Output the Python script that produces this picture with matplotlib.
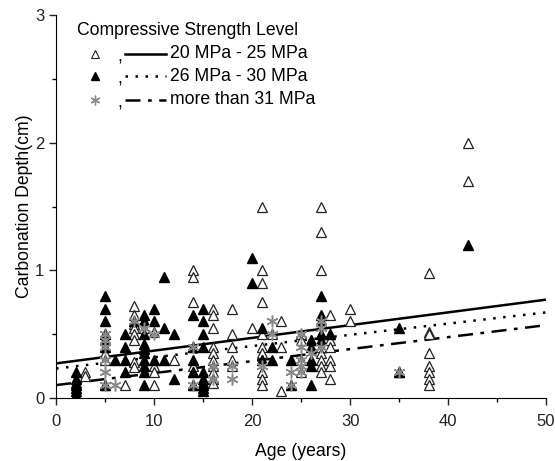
import matplotlib
matplotlib.use("Agg")
import matplotlib.pyplot as plt
import numpy as np

plt.rcParams['font.family'] = ['Liberation Sans', 'DejaVu Sans']

# ------------------------------------------------------------
# data (age in years, depth in cm)
# 20 MPa - 25 MPa  (open triangles)
low_age = [3, 3,
           5, 5, 5, 5, 5,
           7,
           8, 8, 8, 8, 8, 8, 8, 8,
           9, 9,
           10, 10, 10, 10,
           12,
           14, 14, 14, 14, 14, 14, 14,
           16, 16, 16, 16, 16, 16, 16, 16, 16, 16,
           18, 18, 18, 18, 18,
           20,
           21, 21, 21, 21, 21, 21, 21, 21, 21, 21, 21,
           22,
           23, 23, 23,
           25, 25, 25, 25,
           26,
           27, 27, 27, 27, 27, 27, 27, 27, 27, 27,
           28, 28, 28, 28, 28, 28, 28,
           30, 30,
           35,
           38, 38, 38, 38, 38, 38, 38, 38,
           42, 42]
low_depth = [0.2, 0.17,
             0.5, 0.45, 0.35, 0.3, 0.1,
             0.1,
             0.72, 0.65, 0.58, 0.55, 0.5, 0.45, 0.28, 0.24,
             0.6, 0.55,
             0.52, 0.25, 0.2, 0.1,
             0.3,
             1.0, 0.95, 0.75, 0.4, 0.25, 0.2, 0.1,
             0.7, 0.65, 0.55, 0.4, 0.35, 0.3, 0.25, 0.2, 0.15, 0.12,
             0.7, 0.5, 0.4, 0.3, 0.25,
             0.55,
             1.5, 1.0, 0.9, 0.75, 0.5, 0.4, 0.35, 0.3, 0.2, 0.15, 0.1,
             0.5,
             0.6, 0.4, 0.05,
             0.5, 0.45, 0.3, 0.2,
             0.45,
             1.5, 1.3, 1.0, 0.6, 0.5, 0.4, 0.35, 0.3, 0.25, 0.2,
             0.65, 0.5, 0.45, 0.4, 0.3, 0.25, 0.15,
             0.7, 0.6,
             0.2,
             0.98, 0.52, 0.5, 0.35, 0.25, 0.2, 0.15, 0.1,
             2.0, 1.7]

# 26 MPa - 30 MPa  (filled triangles)
mid_age = [2, 2, 2, 2, 2, 2, 2,
           5, 5, 5, 5, 5, 5, 5,
           6,
           7, 7, 7, 7,
           8,
           9, 9, 9, 9, 9, 9, 9, 9, 9, 9,
           10, 10, 10,
           11, 11, 11,
           12, 12,
           14, 14, 14, 14, 14,
           15, 15, 15, 15, 15, 15, 15, 15, 15, 15,
           20, 20,
           21, 21,
           22, 22,
           24, 24,
           26, 26, 26, 26, 26,
           27, 27, 27, 27, 27,
           28,
           35, 35,
           42]
mid_depth = [0.2, 0.15, 0.12, 0.1, 0.08, 0.05, 0.02,
             0.8, 0.7, 0.6, 0.5, 0.45, 0.4, 0.1,
             0.3,
             0.5, 0.4, 0.3, 0.2,
             0.6,
             0.65, 0.6, 0.5, 0.42, 0.38, 0.35, 0.3, 0.25, 0.2, 0.1,
             0.7, 0.6, 0.3,
             0.95, 0.55, 0.3,
             0.5, 0.15,
             0.65, 0.4, 0.3, 0.2, 0.1,
             0.7, 0.6, 0.5, 0.4, 0.2, 0.15, 0.12, 0.1, 0.08, 0.05,
             1.1, 0.9,
             0.55, 0.3,
             0.4, 0.3,
             0.3, 0.1,
             0.45, 0.4, 0.3, 0.25, 0.1,
             0.8, 0.65, 0.6, 0.5, 0.45,
             0.5,
             0.55, 0.2,
             1.2]

# more than 31 MPa  (gray asterisks)
high_age = [5, 5, 5, 5, 5, 5,
            6,
            8,
            9,
            10,
            14, 14,
            16, 16,
            18, 18,
            21,
            22, 22,
            24, 24,
            25, 25, 25, 25, 25,
            26,
            27, 27, 27,
            35]
high_depth = [0.5, 0.45, 0.4, 0.3, 0.2, 0.1,
              0.1,
              0.6,
              0.55,
              0.5,
              0.4, 0.1,
              0.25, 0.15,
              0.25, 0.15,
              0.25,
              0.6, 0.5,
              0.2, 0.1,
              0.5, 0.4, 0.3, 0.25, 0.2,
              0.35,
              0.6, 0.55, 0.4,
              0.2]

# regression lines: (depth at age 0, depth at age 50)
fit_x = [0, 50]
fit_low = [0.27, 0.77]
fit_mid = [0.23, 0.67]
fit_high = [0.10, 0.57]

labels = ['20 MPa - 25 MPa', '26 MPa - 30 MPa', 'more than 31 MPa']

# ------------------------------------------------------------
fig = plt.figure(figsize=(5.55, 4.61), dpi=100)
ax = fig.add_axes([0.101, 0.137, 0.883, 0.830])

dot_ls = (0, (1, 3))
dashdot_ls = (0, (6, 3, 1.5, 3))

ax.plot(fit_x, fit_low, color='black', lw=1.8, ls='-', zorder=2)
ax.plot(fit_x, fit_mid, color='black', lw=1.8, ls=dot_ls, zorder=2)
ax.plot(fit_x, fit_high, color='black', lw=1.8, ls=dashdot_ls, zorder=2)

ax.plot(low_age, low_depth, ls='none', marker='^', ms=7.5, mfc='white',
        mec='#222222', mew=0.9, zorder=3)
ax.plot(mid_age, mid_depth, ls='none', marker='^', ms=7.5, mfc='black',
        mec='black', zorder=3)
ax.plot(high_age, high_depth, ls='none', marker=(6, 2, 0), ms=8.5,
        mec='#8a8a8a', mew=1.1, zorder=4)

ax.set_xlim(0, 50)
ax.set_ylim(0, 3)
ax.set_xticks(range(0, 51, 10))
ax.set_xticks(range(5, 50, 10), minor=True)
ax.set_yticks([0, 1, 2, 3])
ax.set_yticks([0.5, 1.5, 2.5], minor=True)
ax.spines['top'].set_visible(False)
ax.spines['right'].set_visible(False)
ax.tick_params(which='major', length=5, width=1, labelsize=12, colors='#222222')
ax.tick_params(which='minor', length=3, width=1)
ax.tick_params(axis='x', which='major', pad=6.5)
ax.set_xlabel('Age (years)', fontsize=12.7, labelpad=10)
ax.set_ylabel('Carbonation Depth(cm)', fontsize=12.7, labelpad=1)

# ------------------------------------------------------------
# legend built by hand, to keep the "marker , line label" layout
tr = ax.transAxes
ax.text(0.042, 0.960, 'Compressive Strength Level', transform=tr,
        fontsize=12.7, va='center', ha='left')
row_y = [0.899, 0.840, 0.779]
styles = ['-', dot_ls, dashdot_ls]
markers = [dict(marker='^', ms=6, mfc='white', mec='#222222', mew=0.8),
           dict(marker='^', ms=6, mfc='black', mec='black'),
           dict(marker=(6, 2, 0), ms=7, mec='#8a8a8a', mew=1.0)]
for y, ls, mk, lab in zip(row_y, styles, markers, labels):
    ax.plot([0.080], [y], transform=tr, ls='none', clip_on=False, **mk)
    ax.text(0.126, y - 0.008, ',', transform=tr, fontsize=12.7, va='center')
    ax.plot([0.140, 0.224], [y, y], transform=tr, color='black', lw=1.8,
            ls=ls, clip_on=False)
    ax.text(0.233, y, lab, transform=tr, fontsize=12.7, va='center', ha='left')

fig.savefig('out.png', dpi=100)
